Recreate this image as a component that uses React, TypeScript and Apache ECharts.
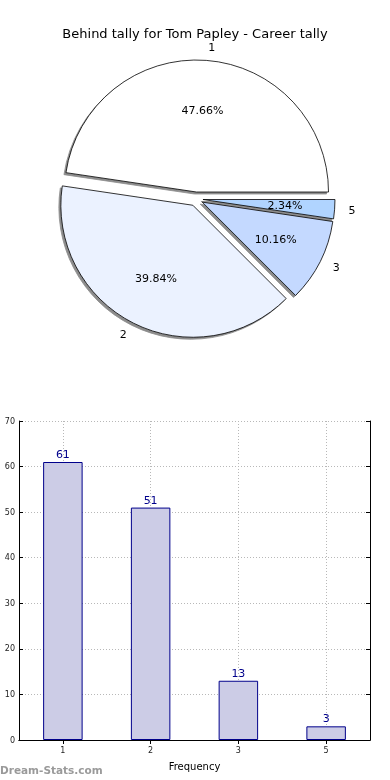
import React, { useEffect, useRef } from 'react';
import * as echarts from 'echarts';

const categories = ['1', '2', '3', '5'];
const tallies = [61, 51, 13, 3];
const yMin = 0;
const yMax = 70;
const yStep = 10;
const chartTitle = 'Behind tally for Tom Papley - Career tally';
const xName = 'Frequency';
const watermark = 'Dream-Stats.com';

const palette = ['#FFFFFF', '#EBF2FF', '#C4D9FF', '#B0D4FF'];
const FONT = 'DejaVu Sans';

export default function App() {
  const ref = useRef<HTMLDivElement>(null);
  useEffect(() => {
    const chart = echarts.init(ref.current!, undefined, { renderer: 'svg' });
    const pieData = categories.map((c, i) => ({
      name: c,
      value: tallies[i],
      selected: true,
      itemStyle: { color: palette[i] },
    }));
    const pctData = categories.map((c, i) => ({ name: c, value: tallies[i], selected: true }));
    const halfSlots = Array.from({ length: categories.length * 2 + 1 }, (_, i) => String(i));
    const odd = (i: number) => i % 2 === 1;
    const center = [196, 199];
    const R = 132;

    chart.setOption({
      animation: false,
      title: {
        text: chartTitle,
        left: 'center',
        top: 22,
        textStyle: { fontSize: 13, fontWeight: 'normal', color: '#000', fontFamily: FONT },
      },
      grid: { left: 19, right: 20, top: 421, bottom: 40, containLabel: false },
      xAxis: [
        {
          type: 'category',
          data: categories,
          position: 'bottom',
          axisLine: { lineStyle: { color: '#000', width: 1 } },
          axisTick: { inside: true, alignWithLabel: true, length: 4, lineStyle: { color: '#000' } },
          axisLabel: { fontSize: 8, color: '#222', margin: 6, fontFamily: FONT },
          splitLine: { show: false },
          name: xName,
          nameLocation: 'middle',
          nameGap: 21,
          nameTextStyle: { fontSize: 10, color: '#000', fontFamily: FONT },
        },
        {
          type: 'category',
          data: halfSlots,
          boundaryGap: false,
          position: 'top',
          axisLine: { show: true, lineStyle: { color: '#000', width: 1 } },
          axisTick: { show: true, inside: true, length: 4, interval: odd, lineStyle: { color: '#000' } },
          axisLabel: { show: false },
          splitLine: { show: true, interval: odd, lineStyle: { type: [1, 2], color: '#b8b8b8', width: 1 } },
        },
      ],
      yAxis: [
        {
          type: 'value',
          min: yMin,
          max: yMax,
          interval: yStep,
          axisLine: { show: true, lineStyle: { color: '#000', width: 1 } },
          axisTick: { show: true, inside: true, length: 4, lineStyle: { color: '#000' } },
          axisLabel: { fontSize: 8, color: '#222', margin: 4, fontFamily: FONT },
          splitLine: { show: true, lineStyle: { type: [1, 2], color: '#b8b8b8', width: 1 } },
        },
        {
          type: 'value',
          min: yMin,
          max: yMax,
          interval: yStep,
          position: 'right',
          axisLine: { show: true, lineStyle: { color: '#000', width: 1 } },
          axisTick: { show: true, inside: true, length: 4, lineStyle: { color: '#000' } },
          axisLabel: { show: false },
          splitLine: { show: false },
        },
      ],
      series: [
        {
          type: 'pie',
          center,
          radius: [0, R],
          startAngle: 0,
          clockwise: false,
          selectedMode: 'multiple',
          selectedOffset: 7,
          avoidLabelOverlap: false,
          data: pieData,
          itemStyle: {
            borderColor: '#000',
            borderWidth: 0.8,
            shadowColor: 'rgba(0,0,0,0.45)',
            shadowBlur: 1,
            shadowOffsetX: -2,
            shadowOffsetY: 2,
          },
          label: {
            show: true,
            position: 'outside',
            formatter: '{b}',
            fontSize: 11,
            color: '#000',
            fontFamily: FONT,
            distanceToLabelLine: 1,
          },
          labelLine: { show: false, length: 13, length2: 0 },
          select: {
            itemStyle: { borderColor: '#000', borderWidth: 0.8 },
            label: { color: '#000' },
          },
          emphasis: { disabled: true },
        },
        {
          type: 'pie',
          center,
          radius: [R * 0.5, R * 0.7],
          startAngle: 0,
          clockwise: false,
          selectedMode: 'multiple',
          selectedOffset: 7,
          percentPrecision: 2,
          avoidLabelOverlap: false,
          silent: true,
          data: pctData,
          itemStyle: { color: 'rgba(0,0,0,0)', borderWidth: 0 },
          label: {
            show: true,
            position: 'inside',
            formatter: '{d}%',
            fontSize: 11,
            color: '#000',
            fontFamily: FONT,
          },
          labelLine: { show: false },
          select: {
            itemStyle: { color: 'rgba(0,0,0,0)', borderWidth: 0 },
            label: { color: '#000' },
          },
          emphasis: { disabled: true },
        },
        {
          type: 'bar',
          xAxisIndex: 0,
          yAxisIndex: 0,
          data: tallies,
          barWidth: '45%',
          itemStyle: { color: '#CCCCE6', borderColor: '#00008B', borderWidth: 1 },
          label: { show: true, position: 'top', distance: 2, fontSize: 11, color: '#00008B', fontFamily: FONT },
          emphasis: { disabled: true },
        },
      ],
      graphic: [
        {
          type: 'text',
          left: 0,
          top: 764,
          style: { text: watermark, fill: '#9a9a9a', font: `bold 10.5px "${FONT}"` },
        },
      ],
    });
    return () => chart.dispose();
  }, []);
  return <div ref={ref} style={{ position: 'fixed', left: 0, top: 0, width: 390, height: 780 }} />;
}
